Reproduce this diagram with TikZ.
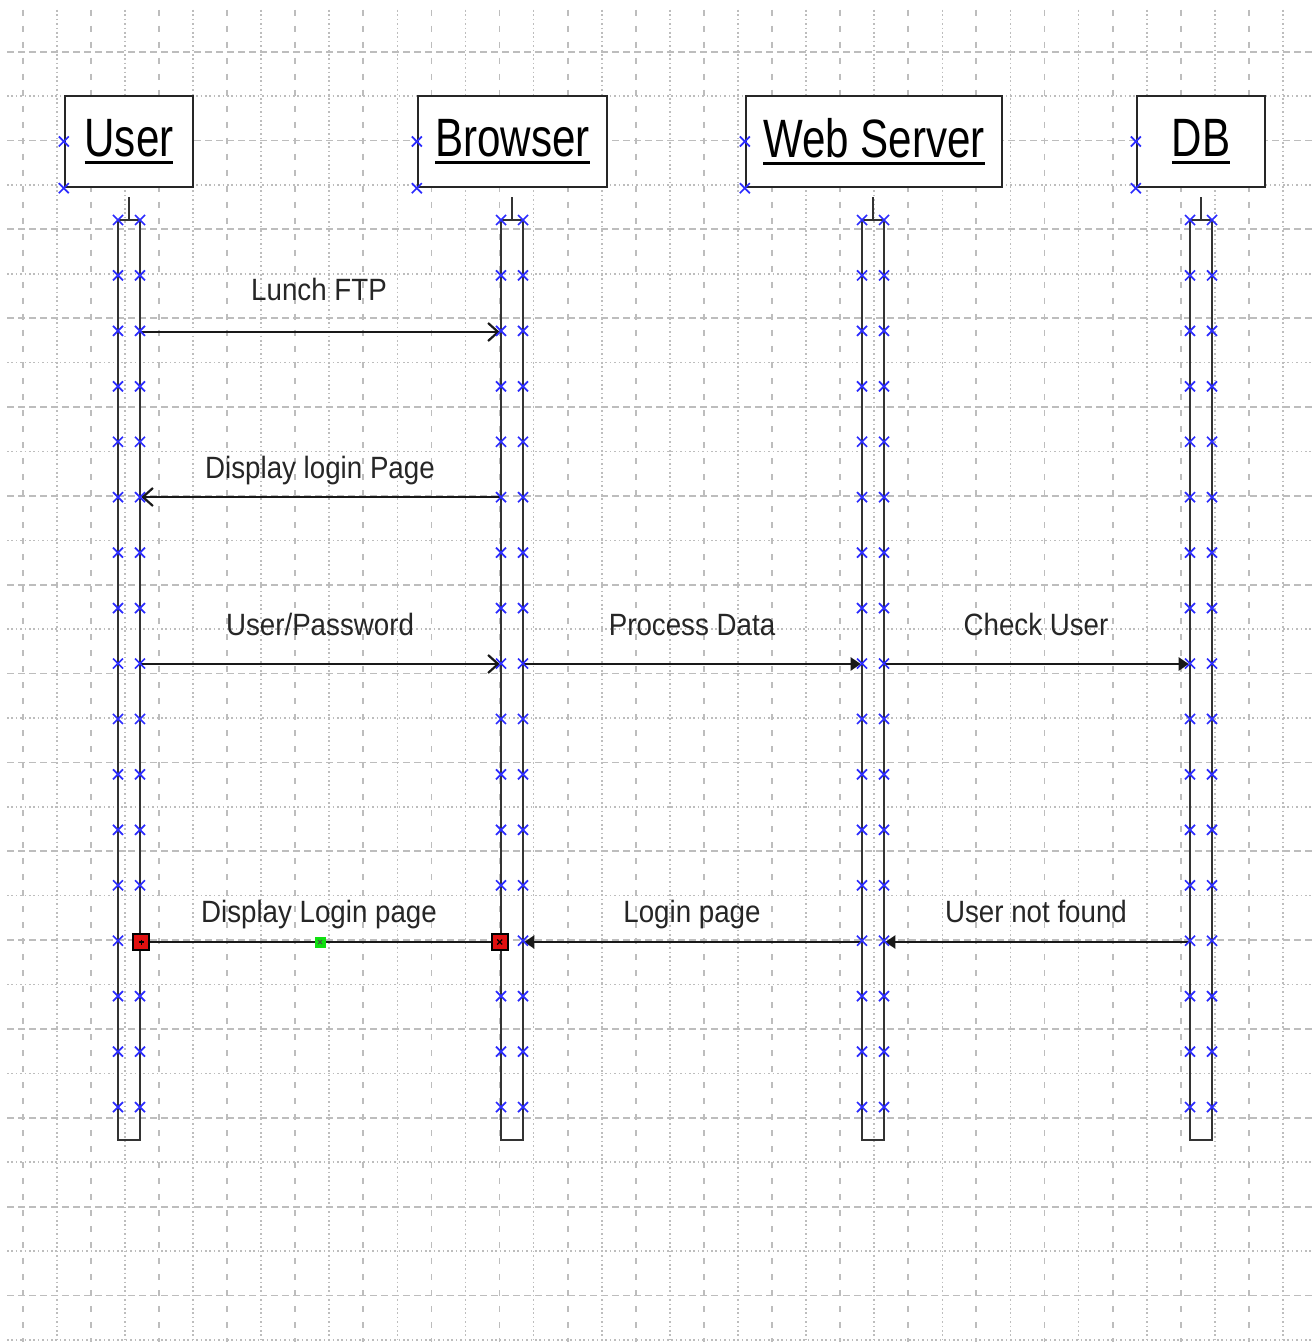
\documentclass[tikz,border=0pt]{standalone}
\usepackage{fontspec}
\setmainfont{Liberation Sans}
\newfontfamily\headfont[FakeStretch=0.78]{Liberation Sans}
\newfontfamily\msgfont[FakeStretch=0.9]{Liberation Sans}
\usetikzlibrary{arrows.meta}
\definecolor{gridgray}{HTML}{BDBDBD}
\definecolor{markblue}{HTML}{2B2BFF}
\definecolor{selred}{HTML}{E01010}
\definecolor{selgreen}{HTML}{10E010}
% underlined heading text
\newcommand\ulined[1]{\setbox0\hbox{#1}\rlap{\rule[-3.5pt]{\wd0}{1.2pt}}\box0}
\begin{document}
\begin{tikzpicture}[x=0.5pt,y=-0.5pt,
  gdash/.style={draw=gridgray, line width=0.9pt, dash pattern=on 3.5pt off 2pt},
  gdot/.style={draw=gridgray, line width=0.8pt, dash pattern=on 0.8pt off 1.4pt},
  vdash/.style={draw=gridgray, line width=0.9pt, dash pattern=on 3pt off 5pt},
  head/.style={draw=black!85, line width=1.2pt, fill=white, inner sep=0pt,
    minimum height=45.5pt, font=\headfont\fontsize{27}{30}\selectfont},
  act/.style={draw=black!80, line width=1.3pt, inner sep=0pt,
    minimum width=11pt, minimum height=460pt},
  msg/.style={draw=black!90, line width=1.1pt},
  open/.style={-{Straight Barb[length=5pt,width=9pt]}},
  solid head/.style={-{Triangle[length=5pt,width=6.5pt]}},
  lbl/.style={anchor=base, inner sep=0pt, text=black!85,
    font=\msgfont\fontsize{15.4}{18}\selectfont},
  handle/.style={draw=black, line width=1.1pt, fill=selred, minimum size=8pt, inner sep=0pt},
  midhandle/.style={fill=selgreen, minimum size=5.5pt, inner sep=0pt},
  xmk/.pic={\draw[markblue, line width=0.85pt] (-5,-5) -- (5,5) (-5,5) -- (5,-5);}
]
% canvas and grid
\fill[white] (0,0) rectangle (1313,1342);
\useasboundingbox (0,0) rectangle (1313,1342);
\foreach \i in {0,2,...,36} \draw[vdash] ({22.7+34.06*\i},10) -- ({22.7+34.06*\i},1342);
\foreach \i in {1,3,...,37} \draw[gdot] ({22.7+34.06*\i},10) -- ({22.7+34.06*\i},1342);
\foreach \k in {0,2,...,28} \draw[gdash] (7,{51.7+44.42*\k}) -- (1313,{51.7+44.42*\k});
\foreach \k in {1,3,...,29} \draw[gdot] (7,{51.7+44.42*\k}) -- (1313,{51.7+44.42*\k});

% participants
\node[head, minimum width=64pt]  (huser) at (129,141.5)  {\ulined{User}};
\node[head, minimum width=94.5pt] (hbrow) at (512.5,141.5) {\ulined{Browser}};
\node[head, minimum width=128pt] (hweb)  at (874,141.5)  {\ulined{Web Server}};
\node[head, minimum width=64pt]  (hdb)   at (1201,141.5) {\ulined{DB}};

% activation bars
\node[act] (uact) at (129,680) {};
\node[act] (bact) at (512,680) {};
\node[act] (wact) at (873,680) {};
\node[act] (dact) at (1201,680) {};
\foreach \a in {uact,bact,wact,dact}
  \draw[black!80, line width=1pt] (\a.north) -- ++(0,-22);

% message rows
\coordinate (y1) at (0,332);
\coordinate (y2) at (0,497);
\coordinate (y3) at (0,664);
\coordinate (y4) at (0,942);

\draw[msg, open] (uact.east |- y1) -- (bact.west |- y1);
\draw[msg, open] (bact.west |- y2) -- (uact.east |- y2);
\draw[msg, open] (uact.east |- y3) -- (bact.west |- y3);
\draw[msg, solid head] (bact.east |- y3) -- (wact.west |- y3);
\draw[msg, solid head] (wact.east |- y3) -- (dact.west |- y3);
\draw[msg, solid head] (dact.west |- y4) -- (wact.east |- y4);
\draw[msg, solid head] (wact.west |- y4) -- (bact.east |- y4);
\draw[msg] (bact.west |- y4) -- (uact.east |- y4);

% message labels
\node[lbl] (l1) at (319,301) {Lunch FTP};
\node[lbl] (l2) at (320,478) {Display login Page};
\node[lbl] (l3) at (320,635) {User/Password};
\node[lbl] (l4) at (692,635) {Process Data};
\node[lbl] (l5) at (1036,635) {Check User};
\node[lbl] (l6) at (319,922) {Display Login page};
\node[lbl] (l7) at (692,922) {Login page};
\node[lbl] (l8) at (1036,922) {User not found};

% connection point markers
\foreach \x in {118,140,501,523,862,884,1190,1212}
  \foreach \k in {0,...,16}
    \pic at ({\x},{220+55.44*\k}) {xmk};
\foreach \h in {huser,hbrow,hweb,hdb} {
  \pic at (\h.west) {xmk};
  \pic at (\h.south west) {xmk};
}

% selection handles on the last reply
\node[handle] (hs1) at (uact.east |- y4) {};
\node[handle] (hs2) at (bact.west |- y4) {};
\node[midhandle] (hs3) at (320,942) {};
\draw[line width=0.7pt] (hs1.center) +(-2.5,0) -- +(2.5,0) (hs1.center) +(0,-2.5) -- +(0,2.5);
\draw[line width=0.6pt] (hs2.center) +(-2.5,-2.5) -- +(2.5,2.5) (hs2.center) +(-2.5,2.5) -- +(2.5,-2.5);
\draw[black!70, line width=0.5pt] (hs3.center) +(-2,-2) -- +(2,2) (hs3.center) +(-2,2) -- +(2,-2);
\end{tikzpicture}
\end{document}
